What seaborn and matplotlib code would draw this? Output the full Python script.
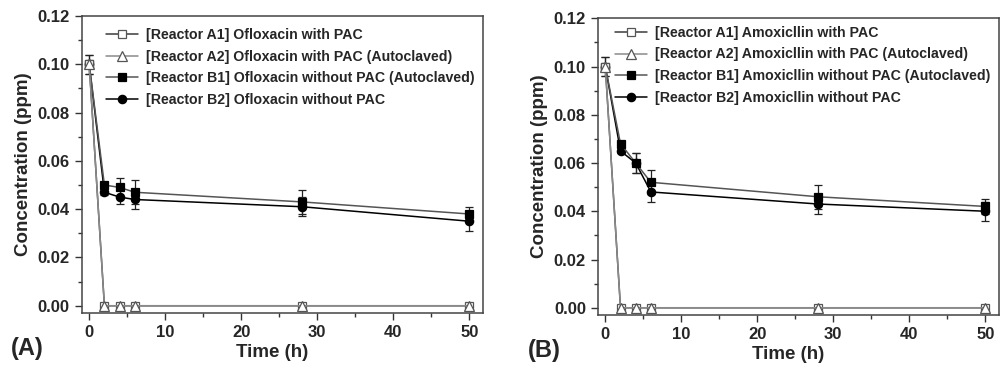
import numpy as np
import pandas as pd
import matplotlib
matplotlib.use("Agg")
import matplotlib.pyplot as plt
import seaborn as sns
from matplotlib.ticker import MultipleLocator

time_h = [0, 2, 4, 6, 28, 50]

# Panel A - Ofloxacin
ofx_a1 = [0.100, 0.0, 0.0, 0.0, 0.0, 0.0]
ofx_a2 = [0.100, 0.0, 0.0, 0.0, 0.0, 0.0]
ofx_b1 = [0.100, 0.050, 0.049, 0.047, 0.043, 0.038]
ofx_b1_err = [0.004, 0.001, 0.004, 0.005, 0.005, 0.003]
ofx_b2 = [0.100, 0.047, 0.045, 0.044, 0.041, 0.035]
ofx_b2_err = [0.004, 0.001, 0.003, 0.004, 0.004, 0.004]

# Panel B - Amoxicillin
amx_a1 = [0.100, 0.0, 0.0, 0.0, 0.0, 0.0]
amx_a2 = [0.100, 0.0, 0.0, 0.0, 0.0, 0.0]
amx_b1 = [0.100, 0.068, 0.060, 0.052, 0.046, 0.042]
amx_b1_err = [0.004, 0.001, 0.004, 0.005, 0.005, 0.003]
amx_b2 = [0.100, 0.065, 0.060, 0.048, 0.043, 0.040]
amx_b2_err = [0.004, 0.001, 0.004, 0.004, 0.004, 0.004]

labels_ofx = ["[Reactor A1] Ofloxacin with PAC",
              "[Reactor A2] Ofloxacin with PAC (Autoclaved)",
              "[Reactor B1] Ofloxacin without PAC (Autoclaved)",
              "[Reactor B2] Ofloxacin without PAC"]
labels_amx = ["[Reactor A1] Amoxicllin with PAC",
              "[Reactor A2] Amoxicllin with PAC (Autoclaved)",
              "[Reactor B1] Amoxicllin without PAC (Autoclaved)",
              "[Reactor B2] Amoxicllin without PAC"]

sns.set_style("ticks")
plt.rcParams["font.family"] = ["Liberation Sans", "DejaVu Sans"]
plt.rcParams["font.weight"] = "bold"
plt.rcParams["axes.labelweight"] = "bold"

# (marker, facecolor, line colour)
STYLES = [("s", "white", "#3a3a3a"),
          ("^", "white", "#8a8a8a"),
          ("s", "black", "#555555"),
          ("o", "black", "black")]
# triangles end up on top, then open squares, then the filled ones
Z_ORDER = {0: 9, 1: 10, 2: 8, 3: 7}


def draw_panel(ax, series, errs, labels, tag, leg_anchor):
    handles = {}
    for i in [3, 2, 0, 1]:
        marker, face, col = STYLES[i]
        df = pd.DataFrame({"t": time_h, "c": series[i]})
        if errs[i] is not None:
            ax.errorbar(df["t"], df["c"], yerr=errs[i], fmt="none", ecolor="#222222",
                        elinewidth=0.9, capsize=3, capthick=0.9, zorder=2)
        sns.lineplot(data=df, x="t", y="c", ax=ax, color=col, lw=1.1,
                     marker=marker, markersize=6 if marker != "^" else 6.5,
                     markerfacecolor=face, markeredgecolor="black" if face == "black" else "#555555",
                     markeredgewidth=0.9, label=labels[i], legend=False)
        handles[i] = ax.get_lines()[-1]
        handles[i].set_zorder(Z_ORDER[i])

    ax.set_xlim(-1, 51.8)
    ax.set_ylim(-0.003, 0.12)
    ax.xaxis.set_major_locator(MultipleLocator(10))
    ax.xaxis.set_minor_locator(MultipleLocator(5))
    ax.yaxis.set_major_locator(MultipleLocator(0.02))
    ax.yaxis.set_minor_locator(MultipleLocator(0.01))
    ax.yaxis.set_major_formatter(plt.FormatStrFormatter("%.2f"))
    ax.tick_params(which="major", direction="out", length=5, width=1, labelsize=12, color="#333333")
    ax.tick_params(which="minor", direction="out", length=3, width=1, color="#333333")
    for lab in ax.get_xticklabels() + ax.get_yticklabels():
        lab.set_fontweight("bold")
    for sp in ax.spines.values():
        sp.set_visible(True)
        sp.set_color("#444444")
        sp.set_linewidth(1.1)
    ax.set_xlabel("Time (h)", fontsize=13.5, fontweight="bold")
    ax.set_ylabel("Concentration (ppm)", fontsize=13.5, fontweight="bold", labelpad=4)
    ax.xaxis.set_label_coords(0.474, -0.105)

    ax.legend([handles[i] for i in range(4)], labels, loc="upper left",
              bbox_to_anchor=leg_anchor, frameon=False,
              prop={"weight": "bold", "size": 10.2}, handlelength=2.2,
              handletextpad=0.6, labelspacing=0.55, borderpad=0, borderaxespad=0)
    ax.text(-0.175, -0.12, tag, transform=ax.transAxes, fontsize=17,
            fontweight="bold", ha="left", va="center")


fig = plt.figure(figsize=(10, 3.65), dpi=100)
ax_a = fig.add_axes([0.0816, 0.1425, 0.4014, 0.8137])
ax_b = fig.add_axes([0.5977, 0.137, 0.4013, 0.813])

draw_panel(ax_a, [ofx_a1, ofx_a2, ofx_b1, ofx_b2],
           [None, None, ofx_b1_err, ofx_b2_err], labels_ofx, "(A)", (0.062, 0.96))
draw_panel(ax_b, [amx_a1, amx_a2, amx_b1, amx_b2],
           [None, None, amx_b1_err, amx_b2_err], labels_amx, "(B)", (0.044, 0.975))

fig.savefig("out.png", dpi=100)
